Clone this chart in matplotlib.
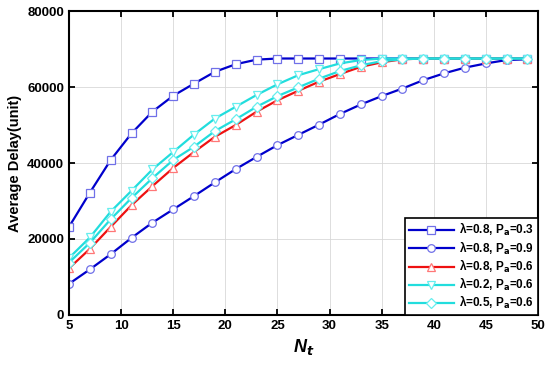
import numpy as np
import matplotlib
matplotlib.use("Agg")
import matplotlib.pyplot as plt

plt.rcParams['font.family'] = ['Liberation Sans', 'DejaVu Sans']
plt.rcParams['font.weight'] = 'bold'

nt = list(range(5, 50, 2))

# lambda=0.8, Pa=0.3
sq = [23200, 32200, 40800, 47800, 53500, 57700, 60900, 64000, 66000, 67200, 67500,
      67500, 67500, 67500, 67500, 67500, 67500, 67500, 67500, 67500, 67500, 67500, 67500]
# lambda=0.8, Pa=0.9
circ = [8200, 12000, 16000, 20300, 24300, 27800, 31300, 34900, 38400, 41600, 44700,
        47400, 50100, 52900, 55400, 57600, 59600, 61800, 63600, 65100, 66200, 67100, 67300]
# lambda=0.8, Pa=0.6
tri = [12300, 17400, 23200, 28900, 33900, 38700, 42900, 46900, 50000, 53500, 56500,
       59000, 61400, 63400, 65300, 66500, 67300, 67500, 67500, 67500, 67500, 67500, 67500]
# lambda=0.2, Pa=0.6
tri_dn = [15000, 20400, 27200, 32700, 38300, 42900, 47500, 51700, 54800, 57900, 60700,
          63100, 64700, 66200, 67100, 67500, 67500, 67500, 67500, 67500, 67500, 67500, 67500]
# lambda=0.5, Pa=0.6
dia = [13800, 19000, 25200, 30800, 36000, 40800, 44300, 48400, 51500, 54800, 57600,
       59900, 62200, 64200, 65700, 66800, 67300, 67500, 67500, 67500, 67500, 67500, 67500]

labels = ['\u03bb=0.8, P$_\\mathbf{a}$=0.3', '\u03bb=0.8, P$_\\mathbf{a}$=0.9',
          '\u03bb=0.8, P$_\\mathbf{a}$=0.6', '\u03bb=0.2, P$_\\mathbf{a}$=0.6',
          '\u03bb=0.5, P$_\\mathbf{a}$=0.6']

fig = plt.figure(figsize=(5.5, 3.67), dpi=100)
ax = fig.add_axes([0.1255, 0.1417, 0.8525, 0.8283])

ax.plot(nt, sq, '-s', color='#0000cc', lw=1.6, ms=5.5, mfc='white', mec='#7070e8', mew=0.9, label=labels[0])
ax.plot(nt, circ, '-o', color='#0000cc', lw=1.6, ms=5.5, mfc='white', mec='#7070e8', mew=0.9, label=labels[1])
ax.plot(nt, tri, '-^', color='#ee1111', lw=1.6, ms=6, mfc='white', mec='#ff7777', mew=0.9, label=labels[2])
ax.plot(nt, tri_dn, '-v', color='#22dddd', lw=1.6, ms=6, mfc='white', mec='#66eeee', mew=0.9, label=labels[3])
ax.plot(nt, dia, '-D', color='#22dddd', lw=1.6, ms=5, mfc='white', mec='#66eeee', mew=0.9, label=labels[4])

ax.set_xlim(5, 50)
ax.set_ylim(0, 80000)
ax.set_xticks(range(5, 51, 5))
ax.set_yticks(range(0, 80001, 20000))
ax.grid(True, color='#d8d8d8', lw=0.6)
ax.tick_params(direction='in', top=True, right=True, length=4, width=1.3, labelsize=9.5)
for s in ax.spines.values():
    s.set_linewidth(1.5)

ax.set_xlabel('N$_\\mathbf{\\mathit{t}}$', fontsize=13, fontweight='bold', style='italic')
ax.set_ylabel('Average Delay(unit)', fontsize=10.5, fontweight='bold', labelpad=4)

leg = ax.legend(loc='lower right', borderaxespad=0, fontsize=8.5, fancybox=False,
                edgecolor='black', framealpha=1, handlelength=3.8, labelspacing=0.1,
                handletextpad=0.5, borderpad=0.3)
leg.get_frame().set_linewidth(1.2)

fig.savefig('out.png', dpi=100)
